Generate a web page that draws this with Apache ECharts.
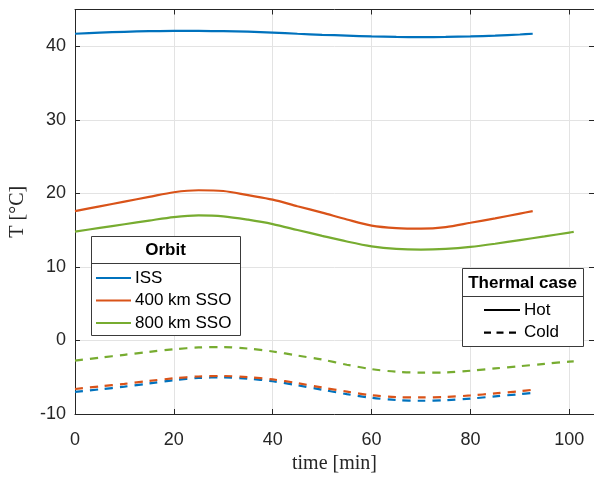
<!DOCTYPE html>
<html><head><meta charset="utf-8">
<script src="https://cdn.jsdelivr.net/npm/echarts@6/dist/echarts.min.js"></script>
<style>html,body{margin:0;padding:0;background:#fff}#c{width:594px;height:479px}</style>
</head><body><div id="c"></div>
<script>
// time samples [min]
const timeShort = [0,5,10,15,20,25,30,35,40,45,50,55,60,65,70,75,80,85,90,92.6];           // ISS & 400 km SSO
const timeLong  = [0,5,10,15,20,25,30,35,40,45,50,55,60,65,70,75,80,85,90,95,100,100.9];   // 800 km SSO
// Hot case
const issHot   = [41.7,41.85,41.97,42.05,42.1,42.1,42.05,41.98,41.85,41.7,41.56,41.45,41.34,41.27,41.25,41.27,41.34,41.45,41.6,41.7];
const sso400Hot= [17.58,18.23,18.88,19.52,20.15,20.42,20.32,19.75,19.15,18.25,17.38,16.45,15.62,15.28,15.2,15.42,16.0,16.6,17.25,17.58];
const sso800Hot= [14.8,15.3,15.8,16.3,16.78,17.0,16.88,16.42,15.82,15.02,14.22,13.45,12.8,12.45,12.35,12.45,12.72,13.15,13.65,14.15,14.67,14.76];
// Cold case
const issCold   = [-7.0,-6.65,-6.28,-5.85,-5.4,-5.1,-5.02,-5.2,-5.55,-6.1,-6.7,-7.3,-7.8,-8.1,-8.2,-8.12,-7.9,-7.6,-7.3,-7.12];
const sso400Cold= [-6.6,-6.25,-5.9,-5.5,-5.15,-4.9,-4.83,-5.0,-5.3,-5.8,-6.4,-6.95,-7.45,-7.7,-7.75,-7.68,-7.48,-7.2,-6.9,-6.7];
const sso800Cold= [-2.73,-2.35,-1.95,-1.55,-1.2,-0.95,-0.9,-1.1,-1.5,-2.05,-2.6,-3.3,-3.9,-4.25,-4.38,-4.35,-4.12,-3.8,-3.5,-3.18,-2.88,-2.85];
// labels
const orbitNames = ['ISS','400 km SSO','800 km SSO'];
const caseNames = ['Hot','Cold'];
const orbitColors = ['#0072BD','#D95319','#77AC30'];

const pairs = (t, v) => t.map((x, i) => [x, v[i]]);
const font = 'Liberation Sans, Arial, Helvetica, sans-serif';
const axisCol = '#262626';
const dash = [8, 7];

function mkSeries(name, t, v, color, dashed) {
  return {
    name, type: 'line', data: pairs(t, v), showSymbol: false, symbol: 'none',
    smooth: 0.3, xAxisIndex: 0, yAxisIndex: 0,
    lineStyle: { color, width: 2.2, type: dashed ? dash : 'solid' },
    silent: true, z: 3
  };
}

const series = [
  mkSeries('ISS', timeShort, issHot, orbitColors[0], false),
  mkSeries('400 km SSO', timeShort, sso400Hot, orbitColors[1], false),
  mkSeries('800 km SSO', timeLong, sso800Hot, orbitColors[2], false),
  mkSeries('ISS cold', timeShort, issCold, orbitColors[0], true),
  mkSeries('400 km SSO cold', timeShort, sso400Cold, orbitColors[1], true),
  mkSeries('800 km SSO cold', timeLong, sso800Cold, orbitColors[2], true)
];

const baseX = {
  type: 'value', min: 0, max: 105, interval: 20,
  axisLine: { show: true, onZero: false, lineStyle: { color: axisCol, width: 1 } },
  axisTick: { show: true, inside: true, length: 5, lineStyle: { color: axisCol } },
  splitLine: { show: false }
};
const baseY = {
  type: 'value', min: -10, max: 45, interval: 10,
  axisLine: { show: true, onZero: false, lineStyle: { color: axisCol, width: 1 } },
  axisTick: { show: true, inside: true, length: 5, lineStyle: { color: axisCol } },
  splitLine: { show: false }
};

// legend graphics
const g = [];
const L1 = { x: 91, y: 236, w: 149, h: 99, div: 27 };
g.push({ type: 'rect', shape: { x: L1.x + 0.5, y: L1.y + 0.5, width: L1.w, height: L1.h }, style: { fill: '#fff', stroke: '#3a3a3a', lineWidth: 1 }, z: 10 });
g.push({ type: 'line', shape: { x1: L1.x, y1: L1.y + L1.div + 0.5, x2: L1.x + L1.w, y2: L1.y + L1.div + 0.5 }, style: { stroke: '#3a3a3a', lineWidth: 1 }, z: 11 });
g.push({ type: 'text', x: L1.x + L1.w / 2, y: L1.y + L1.div / 2 + 1, style: { text: 'Orbit', font: 'bold 17px ' + font, fill: '#000', align: 'center', verticalAlign: 'middle' }, z: 11 });
orbitNames.forEach((n, i) => {
  const yy = 278 + i * 22.5;
  g.push({ type: 'line', shape: { x1: 96, y1: yy, x2: 131, y2: yy }, style: { stroke: orbitColors[i], lineWidth: 2.2 }, z: 11 });
  g.push({ type: 'text', x: 135, y: yy, style: { text: n, font: '17px ' + font, fill: '#000', align: 'left', verticalAlign: 'middle' }, z: 11 });
});
const L2 = { x: 462, y: 268, w: 121, h: 78, div: 28 };
g.push({ type: 'rect', shape: { x: L2.x + 0.5, y: L2.y + 0.5, width: L2.w, height: L2.h }, style: { fill: '#fff', stroke: '#3a3a3a', lineWidth: 1 }, z: 10 });
g.push({ type: 'line', shape: { x1: L2.x, y1: L2.y + L2.div + 0.5, x2: L2.x + L2.w, y2: L2.y + L2.div + 0.5 }, style: { stroke: '#3a3a3a', lineWidth: 1 }, z: 11 });
g.push({ type: 'text', x: L2.x + L2.w / 2, y: L2.y + L2.div / 2 + 1, style: { text: 'Thermal case', font: 'bold 17px ' + font, fill: '#000', align: 'center', verticalAlign: 'middle' }, z: 11 });
caseNames.forEach((n, i) => {
  const yy = 310 + i * 22.7;
  g.push({ type: 'line', shape: { x1: 484, y1: yy, x2: 520, y2: yy }, style: { stroke: '#000', lineWidth: 2.2, lineDash: i ? [7, 5.5] : null }, z: 11 });
  g.push({ type: 'text', x: 524, y: yy, style: { text: n, font: '17px ' + font, fill: '#000', align: 'left', verticalAlign: 'middle' }, z: 11 });
});

const chart = echarts.init(document.getElementById('c'), null, { renderer: 'canvas' });
chart.setOption({
  animation: false,
  backgroundColor: '#fff',
  grid: { left: 74, top: 9.5, right: 0, bottom: 60.3, containLabel: false },
  xAxis: [
    Object.assign({}, baseX, {
      position: 'bottom',
      name: 'time [min]', nameLocation: 'middle', nameGap: 40,
      nameTextStyle: { fontFamily: 'Liberation Serif, Times New Roman, serif', fontSize: 20, color: axisCol },
      axisLabel: { show: true, margin: 17, fontFamily: font, fontSize: 18, color: axisCol, showMaxLabel: false },
      splitLine: { show: true, lineStyle: { color: '#e3e3e3', width: 1 } }
    }),
    Object.assign({}, baseX, { position: 'top', axisLabel: { show: false } })
  ],
  yAxis: [
    Object.assign({}, baseY, {
      position: 'left',
      name: 'T [°C]', nameLocation: 'middle', nameGap: 47,
      nameTextStyle: { fontFamily: 'Liberation Serif, Times New Roman, serif', fontSize: 20, color: axisCol },
      axisLabel: { show: true, margin: 9, fontFamily: font, fontSize: 18, color: axisCol, showMaxLabel: false },
      splitLine: { show: true, lineStyle: { color: '#e3e3e3', width: 1 } }
    }),
    Object.assign({}, baseY, { position: 'right', axisLabel: { show: false } })
  ],
  series,
  graphic: g
});
</script></body></html>
